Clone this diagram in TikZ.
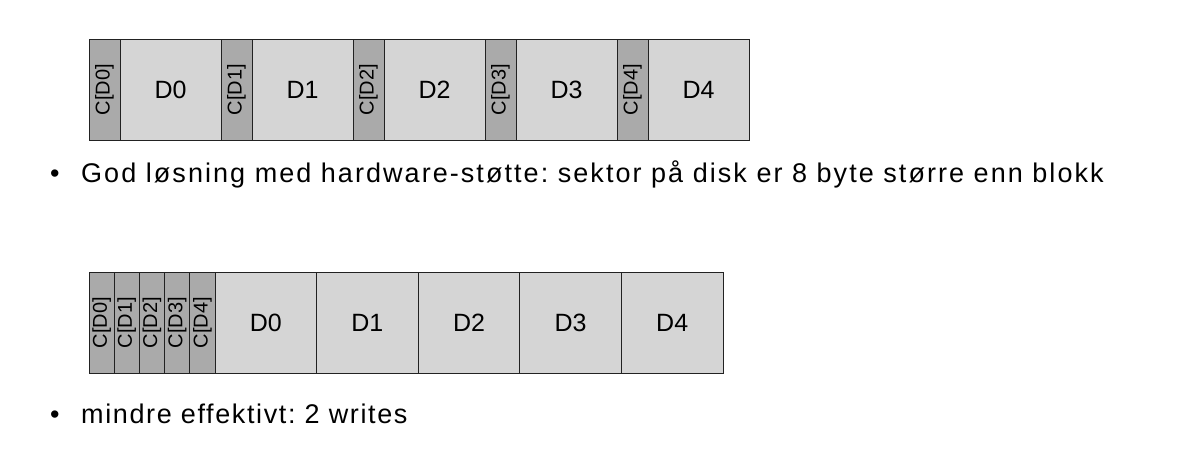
\documentclass[tikz,border=0pt]{standalone}
\usepackage{fontspec}
\setmainfont{Liberation Sans}
\newfontfamily\bulletfont[LetterSpace=6]{Liberation Sans}
\newfontfamily\bulletfontw[LetterSpace=7.6]{Liberation Sans}
\definecolor{cfill}{HTML}{AAAAAA}
\definecolor{dfill}{HTML}{D5D5D5}
\definecolor{edge}{HTML}{222222}
\tikzset{
  cell/.style={draw=edge, line width=1pt, rectangle, inner sep=0pt, outer sep=0pt},
  ccell/.style={cell, fill=cfill, rotate=90, font=\fontsize{20}{21}\selectfont},
  dcell/.style={cell, fill=dfill, font=\fontsize{25}{26}\selectfont},
  btext/.style={inner sep=0pt, anchor=base west, font=\bulletfont\fontsize{27}{28}\selectfont},
}
\begin{document}
\frenchspacing
\begin{tikzpicture}[x=1pt,y=-1pt]
\useasboundingbox (0,0) rectangle (1198,467);
% top row
\foreach \i in {0,...,4}{
  \pgfmathsetmacro{\xa}{89+132*\i}
  \node[ccell, minimum width=101pt, minimum height=31pt] (tc\i) at (\xa+15.5,89.5) {C[D\i]};
  \node[dcell, minimum width=101pt, minimum height=101pt] (td\i) at (\xa+31+50.5,89.5) {D\i};
}
% bottom row
\foreach \i in {0,...,4}{
  \pgfmathsetmacro{\xc}{89+25.2*\i}
  \node[ccell, minimum width=101pt, minimum height=25.2pt] (bc\i) at (\xc+12.6,322.5) {C[D\i]};
}
\foreach \i in {0,...,4}{
  \pgfmathsetmacro{\xd}{215+101.6*\i}
  \node[dcell, minimum width=101.6pt, minimum height=101pt] (bd\i) at (\xd+50.8,322.5) {D\i};
}
% bullets
\node[btext] (b1) at (50,182) {•};
\node[btext, font=\bulletfontw\fontsize{27}{28}\selectfont] (t1) at (81,182) {God løsning med hardware-støtte: sektor på disk er 8 byte større enn blokk};
\node[btext] (b2) at (50,423) {•};
\node[btext] (t2) at (81,423) {mindre effektivt: 2 writes};
\end{tikzpicture}
\end{document}
